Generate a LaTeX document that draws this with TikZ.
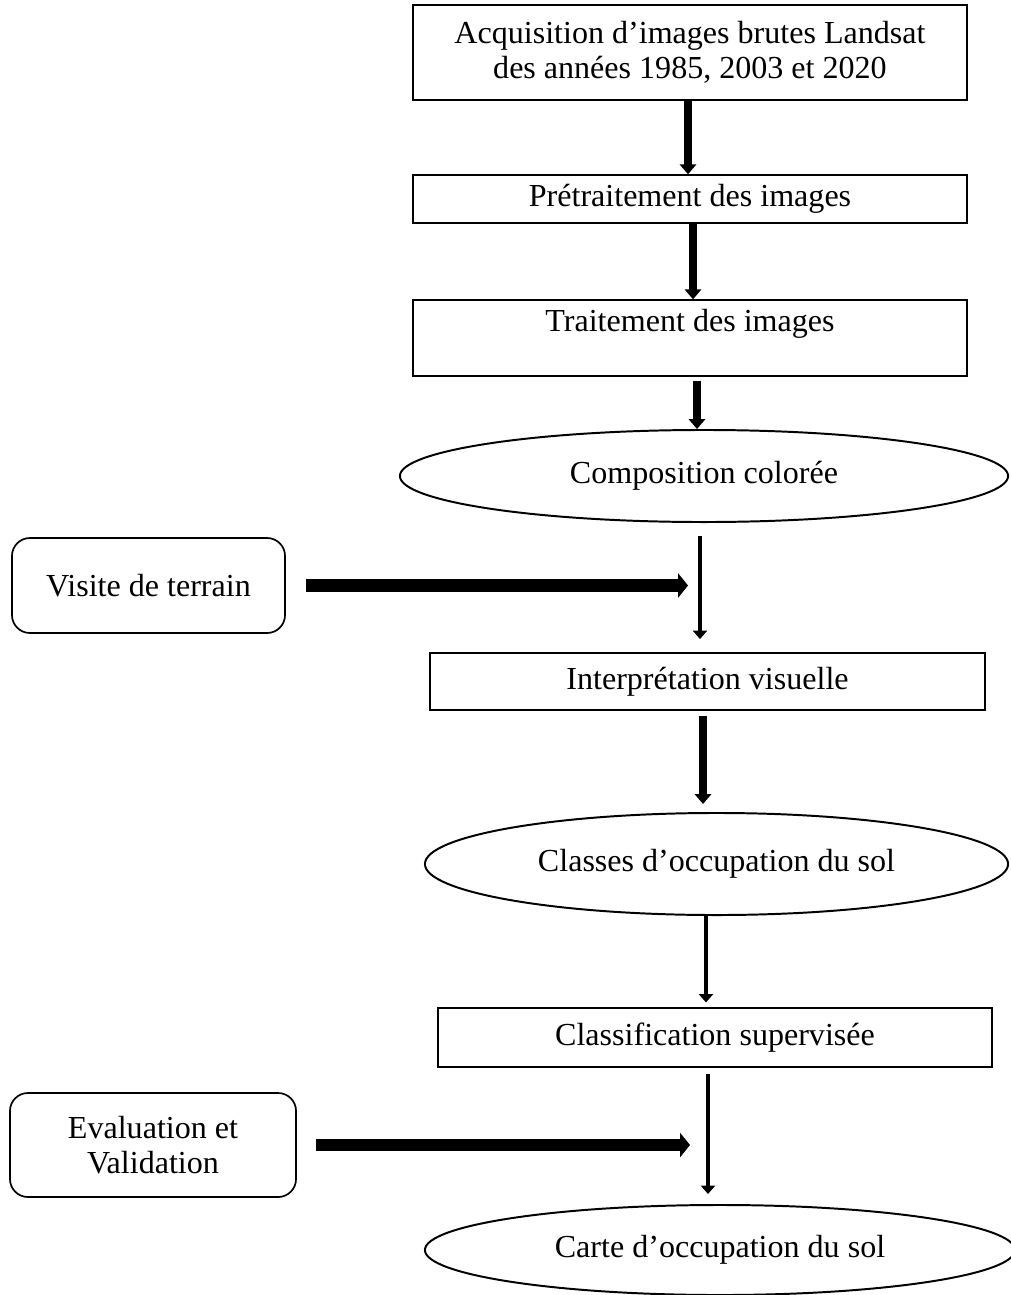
\documentclass[tikz,border=0pt]{standalone}
\usepackage{fontspec}
\setmainfont{Liberation Serif}
\usetikzlibrary{arrows.meta,shapes.geometric}

\tikzset{
  etape/.style={draw, line width=1pt, inner sep=0pt, align=center},
  bulle/.style={draw, ellipse, line width=1.4pt, inner sep=0pt, align=center},
  terrain/.style={draw, rounded corners=0.45cm, line width=1.2pt, inner sep=0pt, align=center},
  fleche/.style={line width=5pt, -{Triangle[length=7pt,width=11.5pt]}},
  flechefine/.style={line width=3.2pt, -{Triangle[length=6pt,width=10pt]}},
  grossefleche/.style={line width=9pt, -{Triangle[length=7pt,width=17pt]}}
}

\begin{document}
\begin{tikzpicture}[x=0.025cm, y=-0.025cm, font=\fontsize{22.8pt}{25pt}\selectfont]
\useasboundingbox (0,0) rectangle (1011,1295);

% chaine principale
\node[etape, minimum width=13.85cm, minimum height=2.375cm] (acq) at (690,52.5)
  {Acquisition d’images brutes Landsat\\des années 1985, 2003 et 2020};
\node[etape, minimum width=13.85cm, minimum height=1.2cm] (pre) at (690,199)
  {Prétraitement des images};
\node[etape, minimum width=13.85cm, minimum height=1.9cm] (trait) at (690,338)
  {Traitement des images\\ ~};
\node[bulle, minimum width=15.2cm, minimum height=2.3cm] (comp) at (704,476)
  {Composition colorée};
\node[etape, minimum width=13.875cm, minimum height=1.425cm] (interp) at (707.5,681.5)
  {Interprétation visuelle};
\node[bulle, minimum width=14.575cm, minimum height=2.55cm] (classes) at (716.5,864)
  {Classes d’occupation du sol};
\node[etape, minimum width=13.85cm, minimum height=1.475cm] (classif) at (715,1037.5)
  {Classification supervisée};
\node[bulle, minimum width=14.75cm, minimum height=2.25cm] (carte) at (720,1250)
  {Carte d’occupation du sol};

% entrees laterales
\node[terrain, minimum width=6.825cm, minimum height=2.375cm] (visite) at (148.5,585.5)
  {Visite de terrain};
\node[terrain, minimum width=7.15cm, minimum height=2.6cm] (evalv) at (153,1145)
  {Evaluation et\\Validation};

% fleches
\draw[fleche] (688,0 |- acq.south) -- (688,0 |- pre.north);
\draw[fleche] (693,0 |- pre.south) -- (693,0 |- trait.north);
\draw[fleche, shorten <=0.1cm] (697,0 |- trait.south) -- (697,0 |- comp.north);
\draw[flechefine, shorten <=0.33cm, shorten >=0.33cm] (700,0 |- comp.south) -- (700,0 |- interp.north);
\draw[fleche, shorten <=0.12cm, shorten >=0.2cm] (703,0 |- interp.south) -- (703,0 |- classes.north);
\draw[flechefine, shorten >=0.12cm] (706,0 |- classes.south) -- (706,0 |- classif.north);
\draw[flechefine, shorten <=0.15cm, shorten >=0.25cm] (708,0 |- classif.south) -- (708,0 |- carte.north);

\draw[grossefleche, shorten <=0.5cm] (visite.east) -- (688,0 |- visite.east);
\draw[grossefleche, shorten <=0.48cm] (evalv.east) -- (690,0 |- evalv.east);
\end{tikzpicture}
\end{document}
